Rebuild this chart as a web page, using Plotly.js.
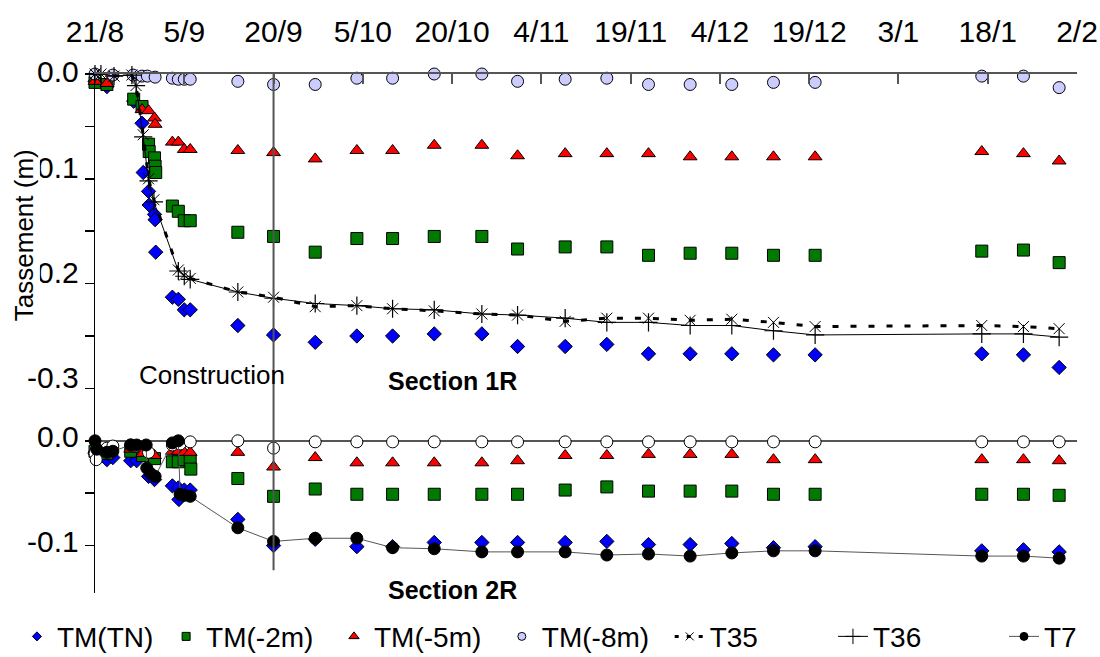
<!DOCTYPE html>
<html>
<head>
<meta charset="utf-8">
<script src="https://cdn.plot.ly/plotly-3.0.1.min.js"></script>
<style>html,body{margin:0;padding:0;background:#fff;}#chart{width:1100px;height:657px;}</style>
</head>
<body>
<div id="chart"></div>
<script>
// ---- X axis: days since 21/8 ----
const xTickVals = [0, 15, 30, 45, 60, 75, 90, 105, 120, 135, 150, 165];
const xTickText = ['21/8', '5/9', '20/9', '5/10', '20/10', '4/11', '19/11', '4/12', '19/12', '3/1', '18/1', '2/2'];
const constructionEndDay = 30;

// common late reading days
const lateDays = [24, 30, 37, 44, 50, 57, 65, 71, 79, 86, 93, 100, 107, 114, 121, 149, 156, 162];

// ---- Section 1R (top) ----
const s1_TN_days = [0, 2, 6.5, 7.9, 8.1, 9, 9.1, 10, 10.1, 10.2, 13, 14, 15, 16].concat(lateDays);
const s1_TN = [-0.007, -0.012, -0.026, -0.047, -0.094, -0.112, -0.125, -0.134, -0.139, -0.170, -0.213, -0.215, -0.225, -0.225,
  -0.240, -0.249, -0.256, -0.250, -0.250, -0.248, -0.248, -0.260, -0.260, -0.258, -0.267, -0.267, -0.267, -0.268, -0.268, -0.267, -0.268, -0.280];

const s1_2m_days = [0, 2, 6.5, 7.9, 9, 9.1, 10, 10.1, 10.2, 13, 14, 15, 16].concat(lateDays);
const s1_2m = [-0.008, -0.010, -0.024, -0.031, -0.067, -0.074, -0.080, -0.088, -0.094, -0.126, -0.131, -0.140, -0.140,
  -0.151, -0.155, -0.170, -0.157, -0.157, -0.155, -0.155, -0.167, -0.165, -0.165, -0.173, -0.171, -0.171, -0.173, -0.173, -0.169, -0.168, -0.180];

const s1_5m_days = [0, 2, 7.9, 9, 10, 10.1, 13, 14, 15, 16].concat(lateDays);
const s1_5m = [-0.007, -0.009, -0.034, -0.035, -0.042, -0.048, -0.065, -0.065, -0.072, -0.072,
  -0.073, -0.075, -0.081, -0.073, -0.073, -0.068, -0.068, -0.078, -0.076, -0.076, -0.076, -0.079, -0.079, -0.079, -0.079, -0.074, -0.076, -0.083];

const s1_8m_days = [0, 3, 6.4, 7.9, 8.8, 10.1, 13, 14, 15, 16].concat(lateDays);
const s1_8m = [0.000, -0.001, -0.001, -0.002, -0.002, -0.003, -0.004, -0.005, -0.005, -0.005,
  -0.007, -0.010, -0.010, -0.004, -0.004, 0.000, 0.000, -0.007, -0.005, -0.004, -0.010, -0.010, -0.010, -0.008, -0.008, -0.002, -0.002, -0.013];

const t3x_days = [0, 1, 3.2, 6.2, 6.9, 8.1, 9, 9.9, 14, 15, 16].concat(lateDays);
const t35 = [0.000, 0.000, -0.002, -0.001, -0.011, -0.058, -0.100, -0.120, -0.187, -0.192, -0.195,
  -0.208, -0.213, -0.222, -0.221, -0.224, -0.226, -0.229, -0.230, -0.236, -0.233, -0.233, -0.235, -0.234, -0.237, -0.241, -0.240, -0.241, -0.243];
const t36 = [0.000, 0.000, -0.002, -0.001, -0.011, -0.060, -0.102, -0.122, -0.188, -0.193, -0.196,
  -0.208, -0.214, -0.219, -0.221, -0.224, -0.225, -0.229, -0.230, -0.233, -0.237, -0.237, -0.240, -0.240, -0.245, -0.249, -0.248, -0.248, -0.251];

// ---- Section 2R (bottom) ----
const s2_TN_days = [0, 2, 3, 6, 7, 9, 10, 13, 14, 14.1, 15, 16].concat(lateDays);
const s2_TN = [-0.012, -0.018, -0.016, -0.019, -0.019, -0.034, -0.037, -0.043, -0.045, -0.056, -0.047, -0.047,
  -0.075, -0.100, -0.094, -0.101, -0.101, -0.097, -0.097, -0.097, -0.097, -0.096, -0.099, -0.099, -0.098, -0.102, -0.101, -0.105, -0.104, -0.106];

const s2_2m_days = [0, 2, 6, 8, 10, 13, 14, 15, 16, 16.1].concat(lateDays);
const s2_2m = [-0.010, -0.012, -0.010, -0.014, -0.017, -0.020, -0.020, -0.018, -0.019, -0.027,
  -0.036, -0.053, -0.046, -0.051, -0.051, -0.051, -0.051, -0.051, -0.047, -0.044, -0.048, -0.048, -0.048, -0.051, -0.051, -0.051, -0.051, -0.052];

const s2_5m_days = [0, 2, 6, 8, 10, 13, 14, 15, 16].concat(lateDays);
const s2_5m = [-0.008, -0.010, -0.008, -0.012, -0.014, -0.010, -0.010, -0.011, -0.011,
  -0.011, -0.025, -0.016, -0.021, -0.021, -0.021, -0.021, -0.019, -0.014, -0.014, -0.013, -0.013, -0.013, -0.018, -0.018, -0.018, -0.018, -0.019];

const s2_8m_days = [0, 0.2, 2, 3, 6, 7, 9, 13, 14.3, 16].concat(lateDays);
const s2_8m = [-0.012, -0.018, -0.007, -0.005, -0.004, -0.005, -0.011, -0.004, -0.003, -0.001,
  0.000, -0.007, -0.001, -0.001, -0.001, -0.001, -0.001, -0.001, -0.001, -0.001, -0.001, -0.001, -0.001, -0.001, -0.001, -0.001, -0.001, -0.001];

const t7_days = [0, 0.3, 2, 3, 6, 7, 8.6, 8.7, 9.3, 10.1, 13, 14, 14.3, 15, 16].concat(lateDays);
const t7 = [0.000, -0.008, -0.011, -0.010, -0.004, -0.004, -0.004, -0.026, -0.031, -0.034, -0.002, 0.000, -0.051, -0.052, -0.053,
  -0.083, -0.096, -0.093, -0.093, -0.102, -0.103, -0.106, -0.106, -0.106, -0.109, -0.108, -0.110, -0.107, -0.105, -0.105, -0.110, -0.110, -0.112];

// ---- axis ticks / labels ----
const topTicks = [0, -0.05, -0.1, -0.15, -0.2, -0.25, -0.3];
const topLabels = ['0.0', '-0.1', '-0.2', '-0.3'];
const topLabelVals = [0, -0.1, -0.2, -0.3];
const botTicks = [0, -0.05, -0.1];
const botLabels = ['0.0', '-0.1'];
const botLabelVals = [0, -0.1];
const seriesNames = ['TM(TN)', 'TM(-2m)', 'TM(-5m)', 'TM(-8m)', 'T35', 'T36', 'T7'];

// ---- styling ----
const FONT = 'Arial, "Liberation Sans", sans-serif';
const BLUE = '#0000ff', GREEN = '#007a00', RED = '#ff0000', LAV = '#ccccff';
const OUT = {color: '#000', width: 1};
const PX_PER_UNIT = 1048;     // vertical scale shared by both panels
const PLOT_H = 519;
const PANEL_OFFSET = 0.35;    // section 2R zero sits 0.35 below section 1R zero
const yTopRange = [-PLOT_H / PX_PER_UNIT, 0];
const yBotRange = [yTopRange[0] + PANEL_OFFSET, PANEL_OFFSET];

function mk(days, vals, yax, sym, color, size, extra) {
  return Object.assign({
    x: days, y: vals, yaxis: yax, xaxis: 'x', type: 'scatter', mode: 'markers',
    cliponaxis: false, showlegend: false, hoverinfo: 'x+y',
    marker: {symbol: sym, color: color, size: size, line: OUT}
  }, extra || {});
}

const traces = [
  mk(s1_TN_days, s1_TN, 'y', 'diamond', BLUE, 11),
  mk(s1_2m_days, s1_2m, 'y', 'square', GREEN, 12),
  mk(s1_5m_days, s1_5m, 'y', 'triangle-up', RED, 12),
  mk(s1_8m_days, s1_8m, 'y', 'circle', LAV, 12),
  mk(t3x_days, t35, 'y', 'x-thin-open', '#000', 11, {mode: 'lines+markers', line: {color: '#000', width: 3, dash: '6px,12px'}, marker: {symbol: 'x-thin-open', size: 11, color: '#000', line: {color: '#000', width: 1}}}),
  mk(t3x_days, t36, 'y', 'cross-thin-open', '#000', 13, {mode: 'lines+markers', line: {color: '#000', width: 1}, marker: {symbol: 'cross-thin-open', size: 13, color: '#000', line: {color: '#000', width: 1.2}}}),
  mk(s2_TN_days, s2_TN, 'y2', 'diamond', BLUE, 11),
  mk(s2_2m_days, s2_2m, 'y2', 'square', GREEN, 12),
  mk(s2_5m_days, s2_5m, 'y2', 'triangle-up', RED, 12),
  mk(s2_8m_days, s2_8m, 'y2', 'circle', '#ffffff', 12),
  mk(t7_days, t7, 'y2', 'circle', '#000', 12, {mode: 'lines+markers', line: {color: '#555', width: 1}}),
];

// legend-only entries (small symbols, as in the reference legend)
function lg(name, extra) {
  return Object.assign({x: [null], y: [null], xaxis: 'x', yaxis: 'y', type: 'scatter', name: name, showlegend: true, hoverinfo: 'skip'}, extra);
}
const pad = n => '\u00a0'.repeat(n);
traces.push(
  lg(seriesNames[0] + pad(1), {mode: 'markers', marker: {symbol: 'diamond', color: BLUE, size: 7, line: OUT}}),
  lg(seriesNames[1] + pad(2), {mode: 'markers', marker: {symbol: 'square', color: GREEN, size: 8, line: OUT}}),
  lg(seriesNames[2] + pad(2), {mode: 'markers', marker: {symbol: 'triangle-up', color: RED, size: 9, line: OUT}}),
  lg(seriesNames[3] + pad(2), {mode: 'markers', marker: {symbol: 'circle', color: LAV, size: 8, line: OUT}}),
  lg(seriesNames[4] + pad(9), {mode: 'lines+markers', line: {color: '#000', width: 3, dash: '4px,8px'}, marker: {symbol: 'x-thin-open', size: 8, color: '#000', line: {color: '#000', width: 1}}}),
  lg(seriesNames[5] + pad(10), {mode: 'lines+markers', line: {color: '#000', width: 1}, marker: {symbol: 'cross-thin-open', size: 11, color: '#000', line: {color: '#000', width: 1}}}),
  lg(seriesNames[6], {mode: 'lines+markers', line: {color: '#555', width: 1}, marker: {symbol: 'circle', size: 8, color: '#000', line: OUT}})
);

const annotations = [];
topLabels.forEach((t, i) => annotations.push({
  text: t, xref: 'paper', x: 0, xshift: -14, xanchor: 'right', yref: 'y', y: topLabelVals[i], yanchor: 'middle',
  yshift: i === 0 ? 3 : 11, showarrow: false, font: {family: FONT, size: 30, color: '#000'}
}));
botLabels.forEach((t, i) => annotations.push({
  text: t, xref: 'paper', x: 0, xshift: -14, xanchor: 'right', yref: 'y2', y: botLabelVals[i], yanchor: 'middle',
  yshift: 4, showarrow: false, font: {family: FONT, size: 30, color: '#000'}
}));
annotations.push(
  {text: 'Tassement (m)', textangle: -90, xref: 'paper', x: -0.072, yref: 'paper', y: 0.69, xanchor: 'center', yanchor: 'middle',
   showarrow: false, bgcolor: '#fff', borderpad: 0, font: {family: FONT, size: 26, color: '#000'}},
  {text: 'Construction', xref: 'x', x: 7, xanchor: 'left', yref: 'y', y: -0.3, yshift: 13, yanchor: 'middle', showarrow: false,
   font: {family: FONT, size: 26, color: '#000'}},
  {text: '<b>Section 1R</b>', xref: 'x', x: 60, xanchor: 'center', yref: 'y', y: -0.3, yshift: 7, yanchor: 'middle', showarrow: false,
   font: {family: FONT, size: 25, color: '#000'}},
  {text: '<b>Section 2R</b>', xref: 'x', x: 60, xanchor: 'center', yref: 'y2', y: -0.1, yshift: -44, yanchor: 'middle', showarrow: false,
   font: {family: FONT, size: 25, color: '#000'}}
);

const layout = {
  width: 1100, height: 657,
  margin: {l: 95, r: 23, t: 74, b: 64, autoexpand: false},
  paper_bgcolor: '#fff', plot_bgcolor: '#fff',
  font: {family: FONT, color: '#000'},
  showlegend: true,
  legend: {orientation: 'h', x: -0.0795, xanchor: 'left', y: -0.036, yanchor: 'top', font: {family: FONT, size: 28, color: '#000'},
           bgcolor: 'rgba(0,0,0,0)', tracegroupgap: 0},
  xaxis: {range: [0, 165], side: 'top', anchor: 'y', showline: true, linecolor: '#555', linewidth: 2, mirror: false,
          ticks: 'inside', ticklen: 10, tickwidth: 2, tickcolor: '#555', tickvals: xTickVals, ticktext: xTickText,
          tickfont: {family: FONT, size: 30, color: '#000'}, ticklabelstandoff: 18, showgrid: false, zeroline: false, fixedrange: true},
  yaxis: {range: yTopRange, domain: [0, 1], anchor: 'x', showline: true, linecolor: '#000', linewidth: 1.5,
          ticks: 'outside', ticklen: 9, tickwidth: 1.5, tickcolor: '#000', tickvals: topTicks, showticklabels: false,
          showgrid: false, zeroline: false, fixedrange: true},
  yaxis2: {range: yBotRange, overlaying: 'y', anchor: 'x', side: 'left', showline: false,
           ticks: 'outside', ticklen: 9, tickwidth: 1.5, tickcolor: '#000', tickvals: botTicks, showticklabels: false,
           showgrid: false, zeroline: true, zerolinecolor: '#555', zerolinewidth: 2, fixedrange: true},
  shapes: [{type: 'line', xref: 'x', x0: constructionEndDay, x1: constructionEndDay, yref: 'paper', y0: 1, y1: 0.044,
            line: {color: '#555', width: 2}}],
  annotations: annotations
};

Plotly.newPlot('chart', traces, layout, {displayModeBar: false, staticPlot: true});
</script>
</body>
</html>
